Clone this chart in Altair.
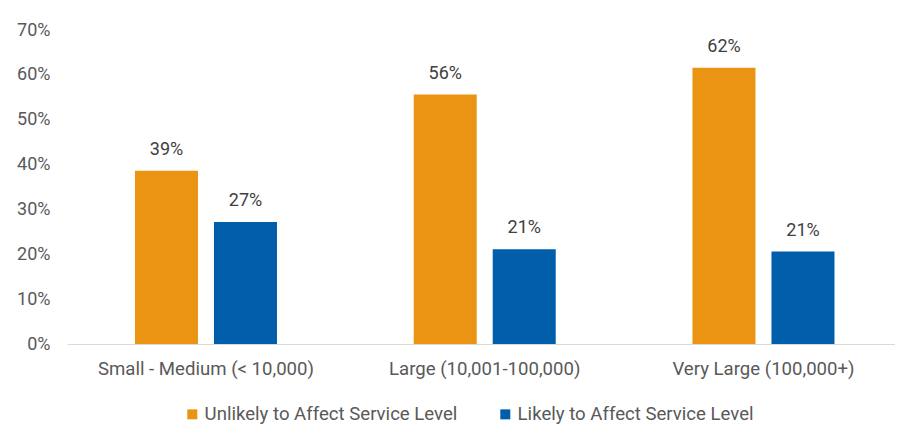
import altair as alt
import pandas as pd

categories = ["Small - Medium (< 10,000)", "Large (10,001-100,000)", "Very Large (100,000+)"]
series = ["Unlikely to Affect Service Level", "Likely to Affect Service Level"]
unlikely = [0.386, 0.556, 0.616]
likely = [0.272, 0.211, 0.206]
colors = ["#EB9313", "#005EAB"]
y_ticks = [0, 0.1, 0.2, 0.3, 0.4, 0.5, 0.6, 0.7]

rows = []
for i, c in enumerate(categories):
    rows.append({"cat": c, "series": series[0], "value": unlikely[i]})
    rows.append({"cat": c, "series": series[1], "value": likely[i]})
df = pd.DataFrame(rows)

FONT = "Roboto"
FS_TXT = 18.6
FS_NUM = 18

x_enc = alt.X("cat:N", sort=categories, title=None,
              scale=alt.Scale(paddingInner=0.4906, paddingOuter=0.2305, align=0.529),
              axis=alt.Axis(labelAngle=0, ticks=False, domainColor="#d9d9d9", domainWidth=1.2,
                            labelColor="#595959", labelFontSize=FS_TXT, labelFont=FONT, labelPadding=15,
                            labelLimit=400))
xoff = alt.XOffset("series:N", sort=series, scale=alt.Scale(paddingInner=0.2025, paddingOuter=0))
y_enc = alt.Y("value:Q", title=None,
              scale=alt.Scale(domain=[0, 0.7], nice=False),
              axis=alt.Axis(values=y_ticks, format=".0%", domain=False, ticks=False, grid=False,
                            labelColor="#595959", labelFontSize=FS_NUM, labelFont=FONT, labelPadding=17))
color_enc = alt.Color("series:N", sort=series, title=None,
                      scale=alt.Scale(domain=series, range=colors),
                      legend=alt.Legend(orient="none", direction="horizontal", legendX=116, legendY=375,
                                        symbolType="square", symbolSize=100, symbolStrokeWidth=0,
                                        labelFontSize=FS_TXT, labelFont=FONT, labelColor="#595959",
                                        labelOffset=3, columnPadding=38, padding=0, labelLimit=400))

base = alt.Chart(df).encode(x=x_enc, xOffset=xoff)

bars = base.mark_bar().encode(y=y_enc, color=color_enc)
labels = base.mark_text(dy=-21, baseline="middle", fontSize=FS_NUM, font=FONT, color="#404040").encode(
    y=alt.Y("value:Q"), text=alt.Text("value:Q", format=".0%"))

chart = alt.layer(bars, labels).properties(
    width=828, height=314,
    autosize=alt.AutoSizeParams(type="none"),
    padding={"left": 59, "top": 22, "right": 0, "bottom": 84},
).configure(background="white", view=alt.ViewConfig(stroke=None, strokeWidth=0))

chart.save("out.html", embed_options={"renderer": "svg", "actions": False})
